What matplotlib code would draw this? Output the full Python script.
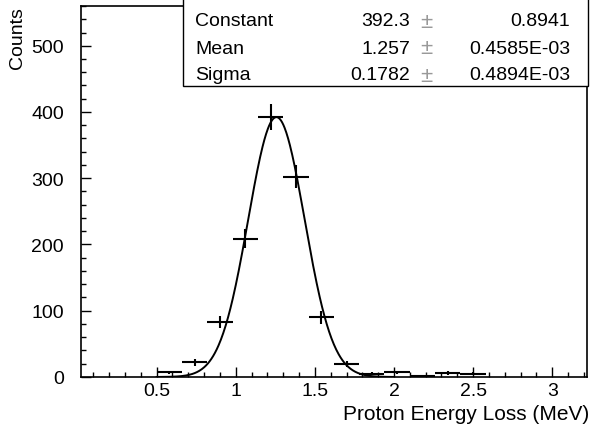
import numpy as np
import matplotlib
matplotlib.use("Agg")
import matplotlib.pyplot as plt
from matplotlib.ticker import MultipleLocator
from matplotlib.patches import Rectangle

plt.rcParams['font.family'] = ['Liberation Sans', 'DejaVu Sans']

# histogram bins (width 0.16, range 0.02 - 3.22)
bin_centers = [0.58, 0.74, 0.90, 1.06, 1.22, 1.38, 1.54, 1.70, 1.86, 2.02, 2.18, 2.34, 2.50]
counts = [7, 22, 83, 209, 393, 302, 90, 20, 5, 7, 2, 6, 5]
bin_width = 0.16

# gaussian fit results
fit_const = 392.3
fit_mean = 1.257
fit_sigma = 0.1782
stat_labels = ["Constant", "Mean", "Sigma"]
stat_values = ["392.3", "1.257", "0.1782"]
stat_errors = ["0.8941", "0.4585E-03", "0.4894E-03"]

fig = plt.figure(figsize=(6.01, 4.27), dpi=100)
ax = fig.add_axes([0.1343, 0.1148, 0.9767 - 0.1343, 0.9836 - 0.1148])

x = np.array(bin_centers)
y = np.array(counts, dtype=float)
ax.errorbar(x, y, xerr=bin_width / 2, yerr=np.sqrt(y), fmt='none',
            ecolor='black', elinewidth=1.5, capsize=0)

xf = np.linspace(0.5, 2.0, 400)
yf = fit_const * np.exp(-0.5 * ((xf - fit_mean) / fit_sigma) ** 2)
ax.plot(xf, yf, color='black', lw=1.4)

ax.set_xlim(0.02, 3.22)
ax.set_ylim(0, 560)
ax.xaxis.set_major_locator(MultipleLocator(0.5))
ax.xaxis.set_minor_locator(MultipleLocator(0.1))
ax.yaxis.set_major_locator(MultipleLocator(100))
ax.yaxis.set_minor_locator(MultipleLocator(20))
ax.set_xticks([0.5, 1, 1.5, 2, 2.5, 3])
ax.set_xticklabels(["0.5", "1", "1.5", "2", "2.5", "3"])
ax.tick_params(which='both', direction='in', top=False, right=False,
               labelsize=14, width=1)
ax.tick_params(which='major', length=7)
ax.tick_params(which='minor', length=3.5)
ax.tick_params(axis='x', pad=3.5)
ax.tick_params(axis='y', pad=12)
for s in ax.spines.values():
    s.set_linewidth(1.2)

ax.set_xlabel("Proton Energy Loss (MeV)", fontsize=15, ha='right', va='center')
ax.xaxis.set_label_coords(1.004, -0.098)
ax.set_ylabel("Counts", fontsize=14, loc='top', labelpad=4)

# stats box
box = Rectangle((183 / 601, 1 - 87 / 427), (588 - 183) / 601, 87 / 427 + 0.01,
                transform=fig.transFigure, facecolor='white', edgecolor='black',
                lw=1, zorder=10)
fig.patches.append(box)
row_y = [22, 49, 76]
for lab, val, err, yy in zip(stat_labels, stat_values, stat_errors, row_y):
    fy = 1 - yy / 427
    fig.text(195 / 601, fy, lab, ha='left', va='center', fontsize=14, zorder=11)
    fig.text(410 / 601, fy, val, ha='right', va='center', fontsize=14, zorder=11)
    fig.text(426 / 601, fy, "\u00b1", ha='center', va='center', fontsize=16,
             color='#999999', zorder=11)
    fig.text(570 / 601, fy, err, ha='right', va='center', fontsize=14, zorder=11)

fig.savefig("out.png", dpi=100)
